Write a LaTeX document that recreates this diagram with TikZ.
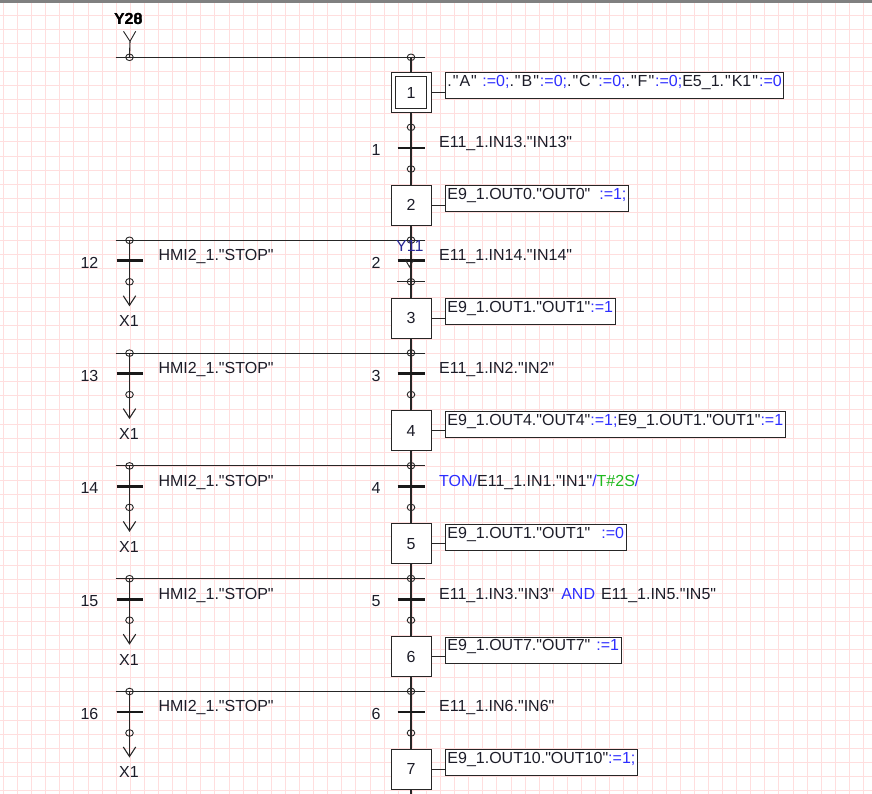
\documentclass[tikz,border=0pt]{standalone}
\usepackage{fontspec}
\setmainfont{Liberation Sans}
\newfontfamily\arialf{Liberation Sans}
\usetikzlibrary{arrows.meta}
\definecolor{gridc}{RGB}{255,222,222}
\definecolor{ink}{RGB}{28,28,40}
\definecolor{kw}{RGB}{45,45,255}
\definecolor{tg}{RGB}{30,185,30}
\definecolor{jmp}{RGB}{40,40,150}
\definecolor{barc}{RGB}{128,128,128}
\newcommand{\wq}{\hspace{1pt}"\hspace{1pt}}
\begin{document}
\begin{tikzpicture}[x=1pt,y=-1pt,
  every node/.style={font=\arialf\fontsize{16}{19}\selectfont, text=ink, inner sep=0pt},
  stepbox/.style={draw=black!85, line width=0.9pt, minimum width=40pt, minimum height=40pt, fill=white},
  actbox/.style={draw=black!85, line width=0.9pt, anchor=north west, inner xsep=2pt, inner ysep=1pt, text height=13pt, text depth=11pt, fill=white},
  conn/.style={draw=black!85, line width=1.1pt},
  tbar/.style={draw=black!90, line width=2.8pt},
  jn/.style={draw=black!85, line width=0.9pt},
  lab/.style={anchor=base},
  ttext/.style={anchor=base west},
  vtip/.style={-{Straight Barb[length=9.5pt,width=12.4pt]}},
  jc/.style={jn, x radius=3.8pt, y radius=3.3pt}
]
% background, grid and bounding box
\fill[white] (0,0) rectangle (872,794);
\useasboundingbox (0,0) rectangle (872,794);
\foreach \i in {0,...,61}{\draw[gridc, line width=0.8pt] ({3.3+14.1*\i},0) -- ({3.3+14.1*\i},794);}
\foreach \j in {0,...,56}{\draw[gridc, line width=0.8pt] (0,{0.9+14.1*\j}) -- (872,{0.9+14.1*\j});}
\fill[barc] (0,0) rectangle (872,2.6);

% initial entry
\node[lab, font=\arialf\fontsize{16}{19}\selectfont\bfseries, text=black] (y20) at (128.3,24.7) {Y20};
\node[lab, font=\arialf\fontsize{16}{19}\selectfont\bfseries, text=black] (y28) at (128.3,24.7) {Y28};
\coordinate (yv) at (130,41.3);
\coordinate (ytop) at (129.5,57.3);
\coordinate (tl) at (115.7,57.3);
\coordinate (tr) at (425,57.3);
\coordinate (top) at (411,57.3);
\draw[conn] (tl) -- (tr);
\draw[conn] (yv) -- (ytop);
\draw[jn] ([shift={(-6.5pt,10pt)}]yv) -- (yv) -- ([shift={(5.7pt,10pt)}]yv);
\draw[jc] (ytop) ellipse[];
\draw[jc] (top) ellipse[];

% steps
\foreach \k/\yy in {1/92.5,2/205.3,3/318.1,4/430.9,5/543.7,6/656.5,7/769.3}{
  \node[stepbox] (s\k) at (411,\yy) {\k};
}
\node[stepbox, minimum width=31.5pt, minimum height=31.5pt, fill=none] (s1i) at (s1) {};
\draw[conn] (top) -- (s1.north);

% actions
\node[actbox] (a1) at (445,72.5) {.\wq A\wq\ \textcolor{kw}{:=0;}.\wq B\wq\textcolor{kw}{:=0;}.\wq C\wq\textcolor{kw}{:=0;}.\wq F\wq\textcolor{kw}{:=0;}E5\_1.\wq K1\wq\textcolor{kw}{:=0}};
\node[actbox] (a2) at (445,185.3) {E9\_1.OUT0."OUT0"\ \ \textcolor{kw}{:=1;}};
\node[actbox] (a3) at (445,298.1) {E9\_1.OUT1."OUT1"\textcolor{kw}{:=1}};
\node[actbox] (a4) at (445,410.9) {E9\_1.OUT4."OUT4"\textcolor{kw}{:=1;}E9\_1.OUT1."OUT1"\textcolor{kw}{:=1}};
\node[actbox] (a5) at (445,523.7) {E9\_1.OUT1."OUT1"\ \ \hspace{2pt}\textcolor{kw}{:=0}};
\node[actbox] (a6) at (445,636.5) {E9\_1.OUT7."OUT7"\ \hspace{1.5pt}\textcolor{kw}{:=1}};
\node[actbox] (a7) at (445,749.3) {E9\_1.OUT10."OUT10"\textcolor{kw}{:=1;}};
\foreach \k in {1,...,7}{\draw[conn] (s\k.east) -- (s\k.east -| a\k.west);}

% main transitions
\foreach \k/\yy/\tx in {
  1/92.5/{E11\_1.IN13."IN13"},
  2/205.3/{E11\_1.IN14."IN14"},
  3/318.1/{E11\_1.IN2."IN2"},
  4/430.9/{\textcolor{kw}{TON/}E11\_1.IN1."IN1"\textcolor{kw}{/}\textcolor{tg}{T\#2S}\textcolor{kw}{/}},
  5/543.7/{E11\_1.IN3."IN3"\hspace{2.5pt} \textcolor{kw}{AND}\hspace{1.5pt} E11\_1.IN5."IN5"},
  6/656.5/{E11\_1.IN6."IN6"}}{
  \pgfmathtruncatemacro\nk{\k+1}
  \draw[conn] (s\k.south) -- (s\nk.north);
  \coordinate (tu\k) at (411,\yy+34.8);
  \coordinate (tb\k) at (411,\yy+55.5);
  \coordinate (td\k) at (411,\yy+76.5);
  \draw[tbar] ([xshift=-13.5pt]tb\k) -- ([xshift=13.5pt]tb\k);
  \draw[jc] (tu\k) ellipse[];
  \draw[jc] (td\k) ellipse[];
  \node[lab] (tn\k) at (376,\yy+63) {\k};
  \node[ttext] (tt\k) at (439,\yy+55.3) {\tx};
}
\coordinate (bot) at (411,794);
\draw[conn] (s7.south) -- (bot);

% stop branches
\foreach \k/\yy in {2/205.3,3/318.1,4/430.9,5/543.7,6/656.5}{
  \pgfmathtruncatemacro\n{10+\k}
  \coordinate (hl\k) at (115.7,\yy+35);
  \coordinate (hr\k) at (425,\yy+35);
  \coordinate (L\k) at (129.5,\yy+35);
  \coordinate (Lb\k) at (129.5,\yy+55.5);
  \coordinate (Lc\k) at (129.5,\yy+76.5);
  \coordinate (La\k) at (129.5,\yy+101);
  \draw[conn] (hl\k) -- (hr\k);
  \draw[conn] (L\k) -- (Lc\k);
  \draw[conn, vtip] (Lc\k) -- (La\k);
  \draw[tbar] ([xshift=-13pt]Lb\k) -- ([xshift=13pt]Lb\k);
  \draw[jc] (L\k) ellipse[];
  \draw[jc] (Lc\k) ellipse[];
  \node[lab] (ln\k) at (89.5,\yy+63) {\n};
  \node[ttext] (lt\k) at (158.3,\yy+55.3) {HMI2\_1."STOP"};
  \node[lab] (x\k) at (129,\yy+121.4) {X1};
}

% jump mark at transition 2
\node[lab, text=jmp] (y11) at (409.8,251.7) {Y11};
\coordinate (jv) at (409.5,267);
\draw[jn] ([shift={(-4.5pt,8pt)}]jv) -- (jv) -- ([shift={(4.5pt,8pt)}]jv);
\coordinate (jl) at (397,281.8);
\coordinate (jr) at (425,281.8);
\draw[conn] (jl) -- (jr);
\end{tikzpicture}
\end{document}
